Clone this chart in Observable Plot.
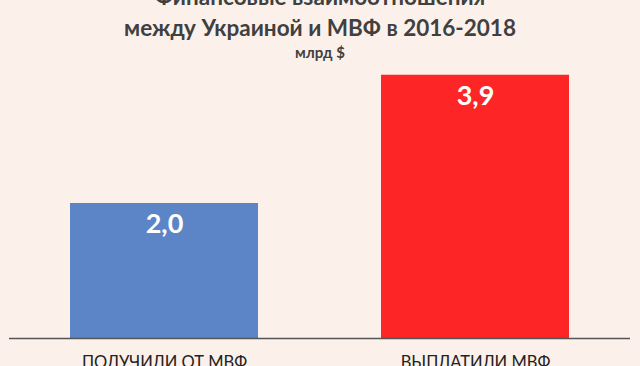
<!DOCTYPE html>
<html>
<head>
<meta charset="utf-8">
<script src="https://cdn.jsdelivr.net/npm/d3@7"></script>
<script src="https://cdn.jsdelivr.net/npm/@observablehq/plot@0.6"></script>
<style>
  html, body { margin: 0; padding: 0; background: #fcf1ea; overflow: hidden; }
  #wrap { position: relative; width: 640px; height: 366px; font-family: Lato, "Open Sans", sans-serif; }
  #title { position: absolute; left: 0; width: 640px; text-align: center; color: #404040; font-weight: bold; }
  .t1, .t2 { font-size: 22.5px; line-height: 31px; white-space: nowrap; }
  .t3 { font-size: 15px; line-height: 18px; }
  #chart { position: absolute; left: 0; top: 0; }
</style>
</head>
<body>
<div id="wrap">
  <div id="chart"></div>
  <div id="title" style="top:-19px">
    <div class="t1">Финансовые взаимоотношения</div>
    <div class="t2">между Украиной и МВФ в 2016-2018</div>
    <div class="t3">млрд $</div>
  </div>
</div>
<script>
const categories = ["ПОЛУЧИЛИ ОТ МВФ", "ВЫПЛАТИЛИ МВФ"];
const values = [2.0, 3.9];
const colors = ["#5b85c7", "#fe2526"];
const labels = ["2,0", "3,9"];

const data = categories.map((c, i) => ({cat: c, value: values[i], color: colors[i], label: labels[i]}));

const chart = Plot.plot({
  width: 640,
  height: 366,
  marginLeft: 0,
  marginRight: 0,
  marginTop: 68,
  marginBottom: 28,
  style: {background: "transparent", fontFamily: "Lato, 'Open Sans', sans-serif"},
  x: {domain: categories, paddingInner: 0.395, paddingOuter: 0.225, axis: null},
  y: {domain: [0, 4], axis: null},
  marks: [
    Plot.barY(data, {x: "cat", y: "value", fill: "color"}),
    Plot.ruleY([0], {stroke: "#555", strokeWidth: 1.5, insetLeft: 9, insetRight: 10}),
    Plot.text(data, {x: "cat", y: "value", text: "label", dy: 21, fill: "white", fontSize: 27, fontWeight: "bold"}),
    Plot.text(data, {x: "cat", y: 0, text: "cat", dy: 24, fill: "#222", fontSize: 16.5, lineAnchor: "middle"})
  ]
});
document.getElementById("chart").appendChild(chart);
</script>
</body>
</html>
